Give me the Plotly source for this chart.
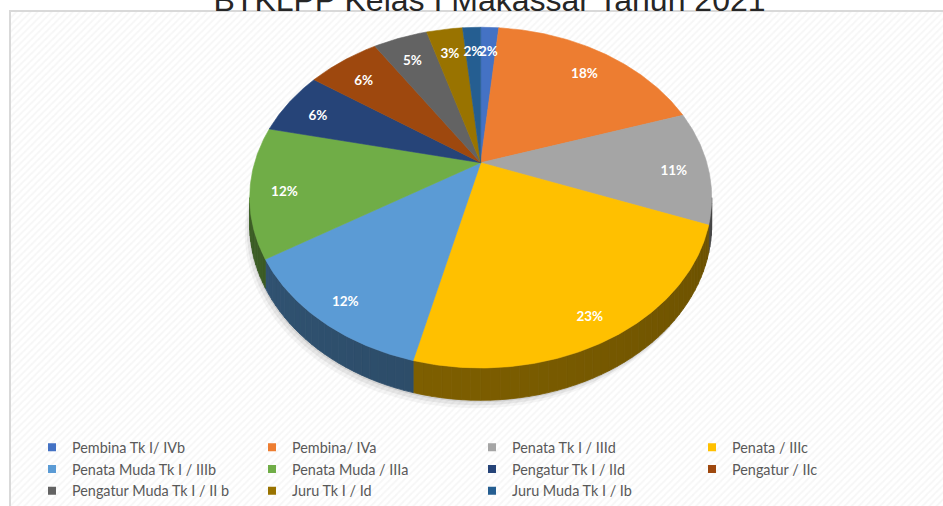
import numpy as np
import plotly.graph_objects as go

# ---------------- data ----------------
categories = ["Pembina Tk I/ IVb", "Pembina/ IVa", "Penata Tk I / IIId", "Penata / IIIc",
              "Penata Muda Tk I / IIIb", "Penata Muda / IIIa", "Pengatur Tk I / IId", "Pengatur / IIc",
              "Pengatur Muda Tk I / II b", "Juru Tk I / Id", "Juru Muda Tk I / Ib"]
values = [2, 24, 14, 30, 16, 16, 8, 8, 6, 4, 2]
colors = ["#4472C4", "#ED7D31", "#A5A5A5", "#FFC000", "#5B9BD5", "#70AD47",
          "#264478", "#9E480E", "#636363", "#997300", "#255E91"]
title_text = "BTKLPP Kelas I Makassar Tahun 2021"

# ---------------- 3D pie geometry (layout constants) ----------------
W, H = 943, 506
CX, CY = 480.7, 162.7      # projected centre of the pie
A, B = 226.1, 163.2        # horizontal / vertical radii
K = 0.205                  # perspective factor
D = 25.7                   # thickness of the pie
LABEL_S = 0.85             # label position as fraction from ellipse centre to rim
EX, EY = CX, CY + B * K / (1 - K * K)   # centre of the projected ellipse


def proj(theta_deg, r=1.0):
    t = np.radians(theta_deg)
    u = r * np.sin(t)
    v = r * np.cos(t)
    den = 1 + K * v
    return CX + A * u / den, CY - B * v / den


def drop(theta_deg):
    v = np.cos(np.radians(theta_deg))
    return D / (1 + K * v)


def shade(hexcol, f):
    h = hexcol.lstrip("#")
    r, g, b = (int(h[i:i + 2], 16) for i in (0, 2, 4))
    return "rgb(%d,%d,%d)" % (r * f, g * f, b * f)


total = float(sum(values))
cum = np.concatenate([[0.0], np.cumsum(values)]) / total * 360.0

fig = go.Figure()

# background hatch
fig.add_trace(go.Scatter(x=[10, W, W, 10, 10], y=[11, 11, H, H, 11], mode="lines",
                         fill="toself", fillcolor="white", line=dict(width=0),
                         fillpattern=dict(shape="/", size=5, solidity=0.35,
                                          fgcolor="#eeeeee", bgcolor="white"),
                         hoverinfo="skip", showlegend=False))

# soft shadow under the pie
th_all = np.linspace(0, 360, 361)
for off, alpha in [((-5, 8), 0.04), ((-3, 5), 0.06), ((-1, 2), 0.08)]:
    sx, sy = proj(th_all)
    sy = sy + drop(th_all)
    fig.add_trace(go.Scatter(x=sx + off[0], y=sy + off[1], mode="lines", fill="toself",
                             fillcolor="rgba(0,0,0,%.2f)" % alpha, line=dict(width=0),
                             hoverinfo="skip", showlegend=False))

# side walls (visible front part)
t_lo = np.degrees(np.arccos(-K))
t_hi = 360 - t_lo
STEP = 2.0
for i, c in enumerate(colors):
    a, b = max(cum[i], t_lo), min(cum[i + 1], t_hi)
    if b <= a:
        continue
    n = int(np.ceil((b - a) / STEP))
    edges = np.linspace(a, b, n + 1)
    for j in range(n):
        ts = np.linspace(edges[j], edges[j + 1], 4)
        tx, ty = proj(ts)
        bx, by = tx, ty + drop(ts)
        mid = 0.5 * (edges[j] + edges[j + 1])
        f = 0.42 + 0.13 * (mid - t_lo) / (t_hi - t_lo)
        col = shade(c, f)
        fig.add_trace(go.Scatter(x=np.concatenate([tx, bx[::-1], tx[:1]]),
                                 y=np.concatenate([ty, by[::-1], ty[:1]]),
                                 mode="lines", fill="toself", fillcolor=col,
                                 line=dict(width=0.8, color=col),
                                 hoverinfo="skip", showlegend=False))

# top surface slices
for i, c in enumerate(colors):
    ts = np.linspace(cum[i], cum[i + 1], max(3, int((cum[i + 1] - cum[i]) / 0.5) + 1))
    ax, ay = proj(ts)
    fig.add_trace(go.Scatter(x=np.concatenate([[CX], ax, [CX]]),
                             y=np.concatenate([[CY], ay, [CY]]),
                             mode="lines", fill="toself", fillcolor=c,
                             line=dict(width=0.6, color=c), name=categories[i],
                             hoverinfo="name", showlegend=False))

# data labels
mids = 0.5 * (cum[:-1] + cum[1:])
rx, ry = proj(mids)
lx = EX + LABEL_S * (rx - EX)
ly = EY + LABEL_S * (ry - EY)
labels = ["%d%%" % int(round(100 * v / total)) for v in values]
fig.add_trace(go.Scatter(x=lx, y=ly, mode="text", text=labels,
                         textfont=dict(family="Lato", size=13.5, color="white", weight="bold"),
                         hoverinfo="skip", showlegend=False))

# legend entries
for cat, c in zip(categories, colors):
    fig.add_trace(go.Scatter(x=[None], y=[None], mode="markers", name=cat,
                             marker=dict(symbol="square", size=8, color=c),
                             showlegend=True))

fig.update_layout(
    width=W, height=H, margin=dict(l=0, r=0, t=0, b=0, autoexpand=False),
    paper_bgcolor="white", plot_bgcolor="white",
    xaxis=dict(range=[0, W], visible=False, fixedrange=True),
    yaxis=dict(range=[H, 0], visible=False, fixedrange=True),
    title=dict(text=title_text, x=489.5 / W, xanchor="center", y=1.0, yanchor="middle",
               yref="container", font=dict(family="Liberation Sans", size=32, color="#262626")),
    legend=dict(orientation="h", x=32 / W, xanchor="left", y=1 - 431.5 / H, yanchor="top",
                entrywidth=175, entrywidthmode="pixels", bgcolor="rgba(0,0,0,0)",
                font=dict(family="Lato", size=14.4, color="#595959"), itemclick=False),
    shapes=[dict(type="rect", xref="paper", yref="paper", x0=10 / W, x1=1.02,
                 y0=-0.02, y1=1 - 11 / H, line=dict(color="#d9d9d9", width=2),
                 fillcolor="rgba(0,0,0,0)", layer="above")],
)

fig.write_html("out.html")
